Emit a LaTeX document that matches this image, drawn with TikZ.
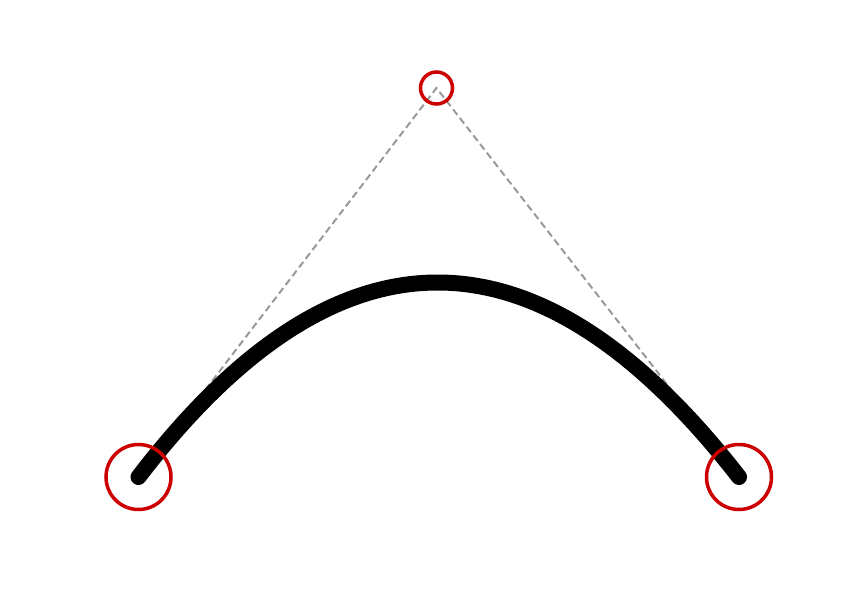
\documentclass[tikz,border=0pt]{standalone}
\usetikzlibrary{calc}
\definecolor{ptred}{HTML}{CC0000}
\definecolor{guide}{HTML}{999999}
\begin{document}
\begin{tikzpicture}[x=1pt,y=-1pt,
  guideline/.style={draw=guide,line width=2pt,dash pattern=on 7pt off 4pt},
  curveline/.style={draw=black,line width=16pt,line cap=round},
  bigpt/.style={circle,draw=ptred,line width=3.5pt,minimum size=65pt,inner sep=0pt},
  smallpt/.style={circle,draw=ptred,line width=3.5pt,minimum size=32pt,inner sep=0pt}]
\useasboundingbox (0,0) rectangle (868,602);
\coordinate (p0) at (138.5,477);
\coordinate (c) at (436.5,88);
\coordinate (p1) at (739,477);
\draw[guideline] (p0) -- (c) -- (p1);
\draw[curveline] (p0) .. controls ($(p0)!2/3!(c)$) and ($(p1)!2/3!(c)$) .. (p1);
\node[bigpt] (n0) at (p0) {};
\node[smallpt] (nc) at (c) {};
\node[bigpt] (n1) at (p1) {};
\end{tikzpicture}
\end{document}
